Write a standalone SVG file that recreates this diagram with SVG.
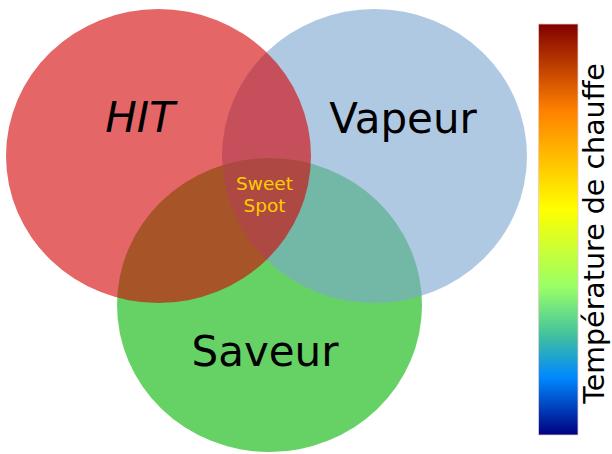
<svg xmlns="http://www.w3.org/2000/svg" width="612" height="454" viewBox="0 0 612 454">
  <defs>
    <linearGradient id="heat" x1="0" y1="0" x2="0" y2="1">
      <stop offset="0" stop-color="#800000"/>
      <stop offset="0.21" stop-color="#ff8000"/>
      <stop offset="0.45" stop-color="#ffff00"/>
      <stop offset="0.64" stop-color="#99ff66"/>
      <stop offset="0.76" stop-color="#40c0a0"/>
      <stop offset="0.86" stop-color="#0088ff"/>
      <stop offset="1" stop-color="#000080"/>
    </linearGradient>
  </defs>
  <style>
    .lbl { font-family: "DejaVu Sans", "Liberation Sans", sans-serif; fill: #000; text-anchor: middle; }
    .big { font-size: 42px; }
    .sweet { font-family: "DejaVu Sans", "Liberation Sans", sans-serif; font-size: 18.5px; fill: #ffcc00; text-anchor: middle; }
  </style>
  <rect width="612" height="454" fill="#ffffff"/>
  <g id="saveur">
    <ellipse cx="269.5" cy="305" rx="152.5" ry="147" fill="#66d266"/>
  </g>
  <g id="vapeur">
    <ellipse cx="374.5" cy="156" rx="152.5" ry="147" fill="#7ba5d0" fill-opacity="0.6"/>
  </g>
  <g id="hit">
    <ellipse cx="158.5" cy="156" rx="152.5" ry="147" fill="#d40000" fill-opacity="0.6"/>
  </g>
  <g id="labels">
    <text class="lbl big" x="140" y="132" font-style="italic">HIT</text>
    <text class="lbl big" x="403" y="133">Vapeur</text>
    <text class="lbl big" x="265" y="366">Saveur</text>
    <text class="sweet" x="264.5" y="190">Sweet</text>
    <text class="sweet" x="264.5" y="211.5">Spot</text>
  </g>
  <g id="colorbar">
    <rect x="538.5" y="24" width="39.5" height="411" fill="url(#heat)" stroke="#e6cccc" stroke-width="0.8"/>
    <text class="lbl" font-size="28.5" transform="translate(604 233.5) rotate(-90)">Température de chauffe</text>
  </g>
</svg>
